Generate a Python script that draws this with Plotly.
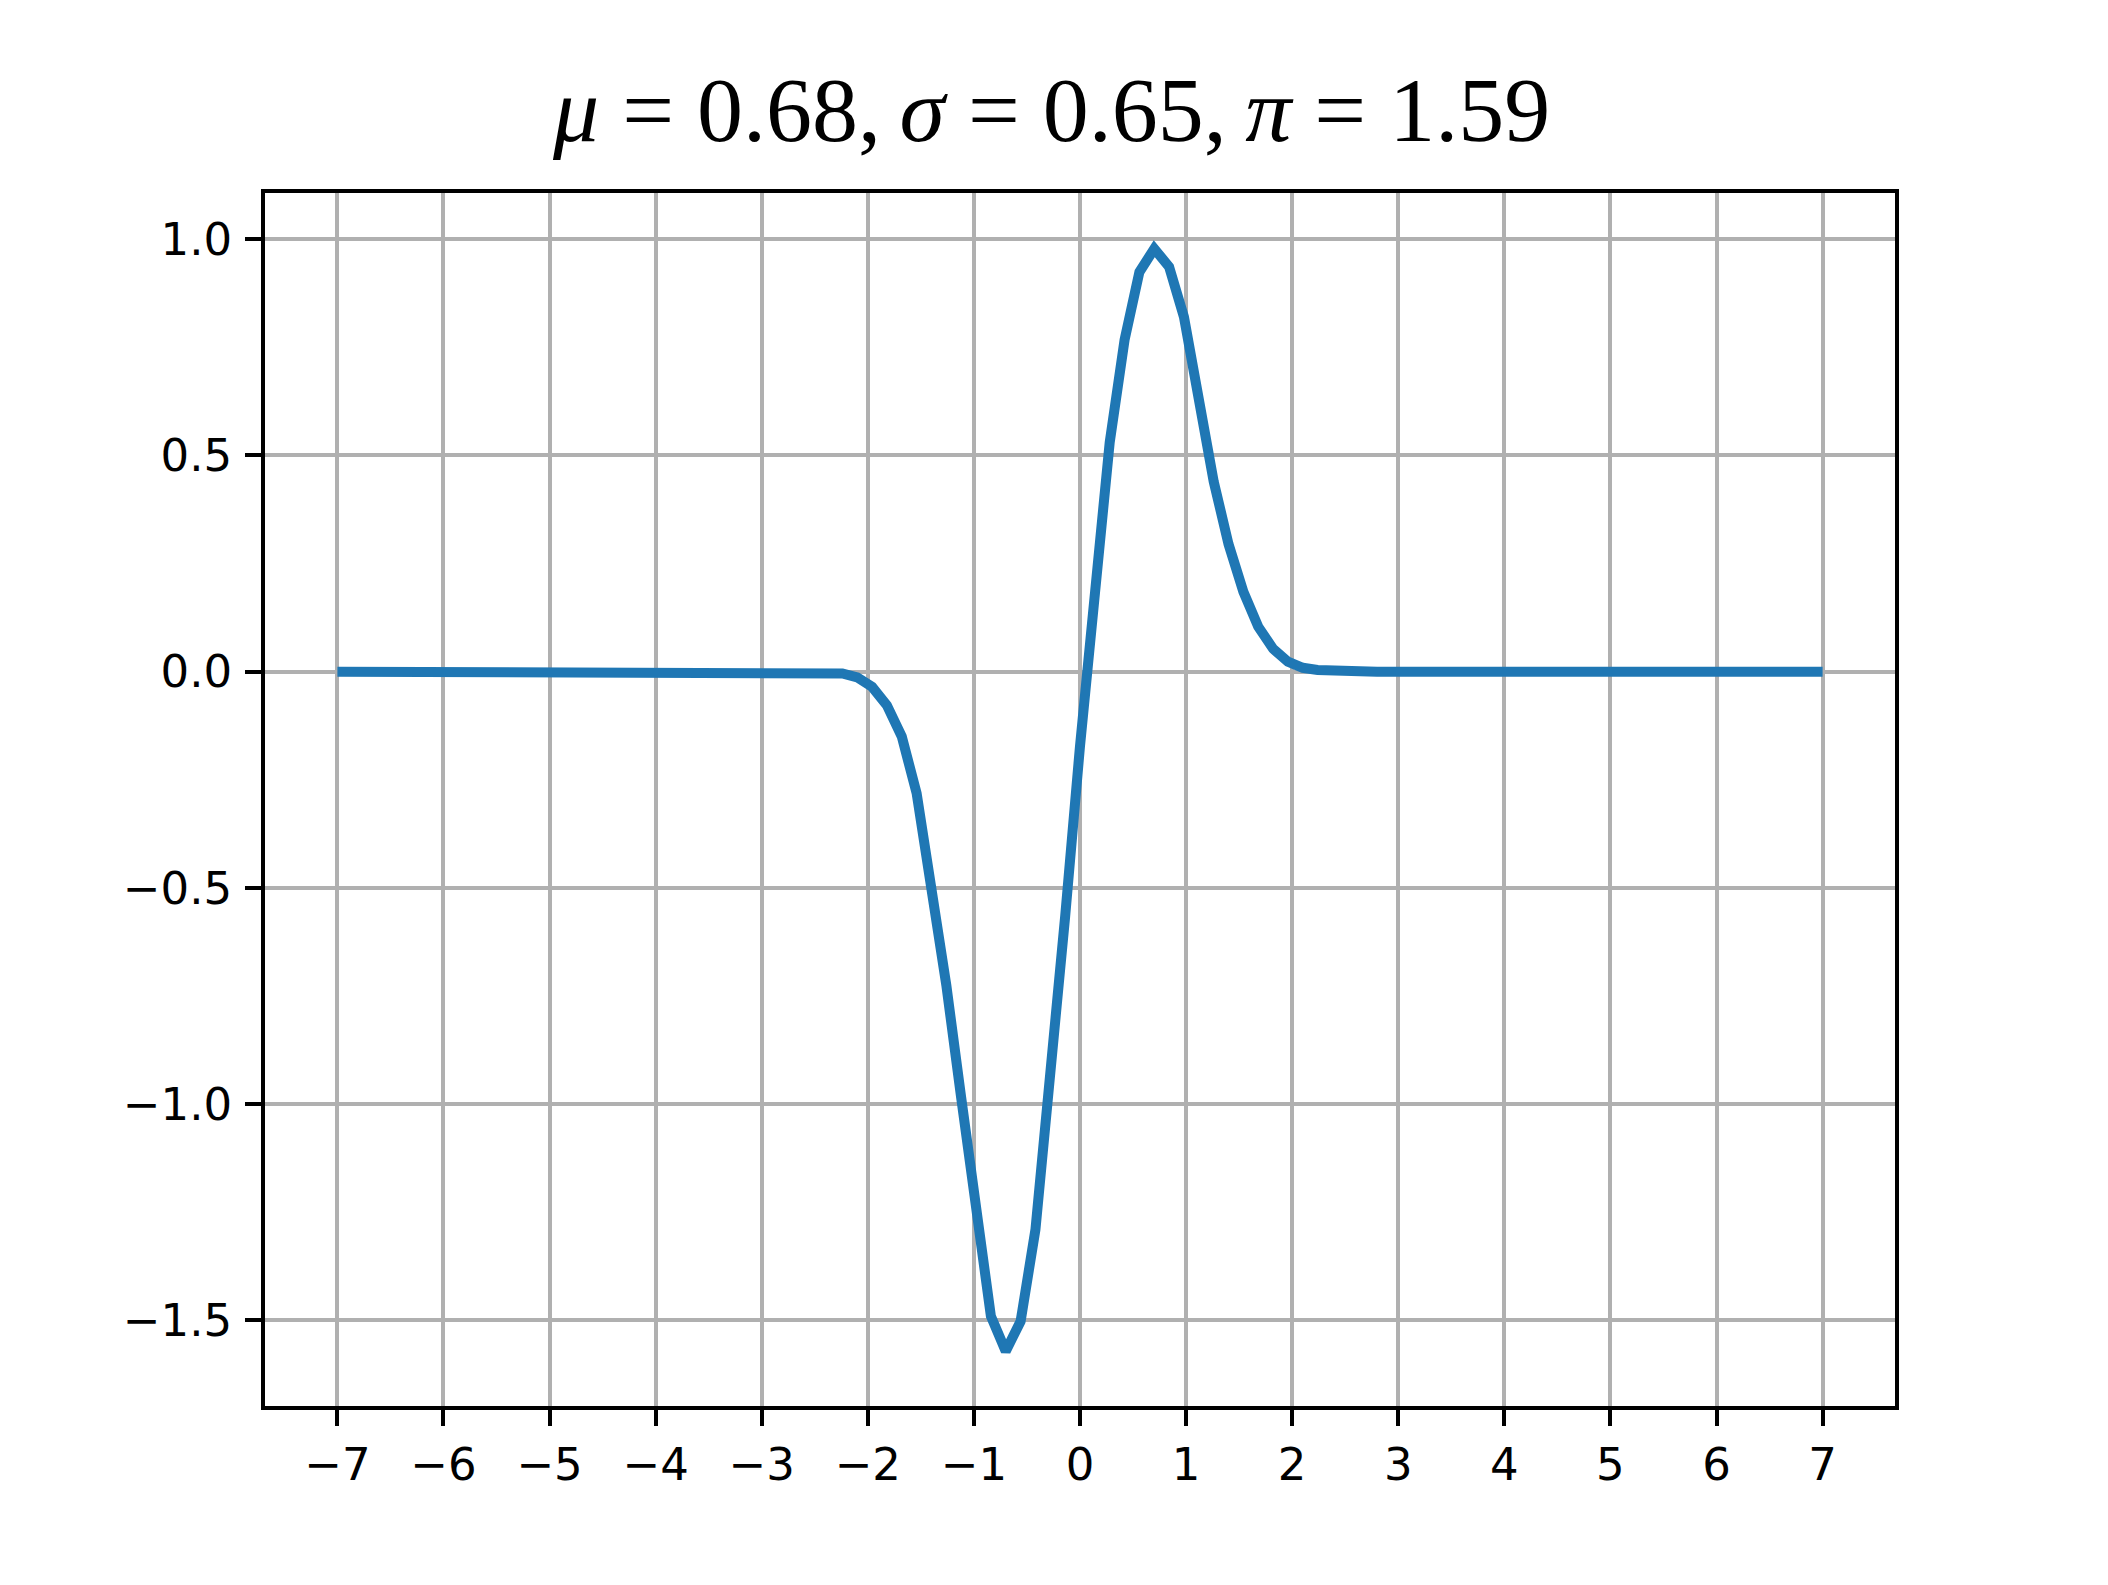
import plotly.graph_objects as go

# sampled curve (flat zero tails are straight segments to the ends)
x_vals = [-7.0, -2.80, -2.66, -2.52, -2.38, -2.24, -2.10, -1.96, -1.82, -1.68, -1.54,
          -1.40, -1.26, -1.12, -0.98, -0.84, -0.70, -0.56, -0.42, -0.28, -0.14,
          0.00, 0.14, 0.28, 0.42, 0.56, 0.70, 0.84, 0.98, 1.12, 1.26, 1.40,
          1.54, 1.68, 1.82, 1.96, 2.10, 2.24, 2.38, 2.52, 2.66, 2.80, 7.0]
y_vals = [0.0, 0.0, 0.0, -0.0003, -0.001, -0.004, -0.013, -0.035, -0.078, -0.150, -0.281,
          -0.489, -0.725, -0.985, -1.235, -1.490, -1.571, -1.502, -1.290, -0.950, -0.566,
          -0.172, 0.200, 0.530, 0.767, 0.924, 0.978, 0.936, 0.820, 0.636, 0.440, 0.295,
          0.185, 0.104, 0.053, 0.023, 0.009, 0.004, 0.002, 0.001, 0.0, 0.0, 0.0]

x_ticks = [-7, -6, -5, -4, -3, -2, -1, 0, 1, 2, 3, 4, 5, 6, 7]
x_ticktext = ["\u22127", "\u22126", "\u22125", "\u22124", "\u22123", "\u22122", "\u22121",
              "0", "1", "2", "3", "4", "5", "6", "7"]
y_ticks = [1.0, 0.5, 0.0, -0.5, -1.0, -1.5]
y_ticktext = ["1.0", "0.5", "0.0", "\u22120.5", "\u22121.0", "\u22121.5"]

title_text = "<i>\u03bc</i> = 0.68,\u2009<i>\u03c3</i> = 0.65,\u2009<i>\u03c0</i> = 1.59"

OFF = 8      # page body margin
LW = 3.7     # spine width (plotly draws it outside the plot area)
HALF = LW / 2
W, H = 2108 - OFF, 1585 - OFF
# spine centre positions in the page, moved inward by half the line width
L = 263.3 - OFF + HALF
R = 1896.6 - OFF - HALF
T = 190.9 - OFF + HALF
B = 1407.9 - OFF - HALF

# data <-> pixel mapping measured at the spine centres
XPX = (1896.6 - 263.3) / 15.4          # px per x unit
YPX = (1407.9 - 190.9) / (1.111 + 1.702)  # px per y unit
x_range = [-7.7 + HALF / XPX, 7.7 - HALF / XPX]
y_range = [-1.702 + HALF / YPX, 1.111 - HALF / YPX]

fig = go.Figure()
fig.add_trace(go.Scatter(x=x_vals, y=y_vals, mode="lines",
                         line=dict(color="#1f77b4", width=10), hoverinfo="skip"))

axis_common = dict(showline=True, mirror=True, linecolor="black", linewidth=LW,
                   ticks="outside", ticklen=16, tickwidth=LW, tickcolor="black",
                   showgrid=True, gridcolor="#b0b0b0", gridwidth=3.5, zeroline=False,
                   tickfont=dict(family="DejaVu Sans", size=45, color="black"))

title_cx = 1051 - OFF
title_cy = 110 - OFF

fig.update_layout(
    width=W, height=H, autosize=False,
    paper_bgcolor="white", plot_bgcolor="white",
    margin=dict(l=L, r=W - R, t=T, b=H - B, pad=0),
    showlegend=False,
    xaxis=dict(range=x_range, tickmode="array", tickvals=x_ticks, ticktext=x_ticktext,
               ticklabelstandoff=0, **axis_common),
    yaxis=dict(range=y_range, tickmode="array", tickvals=y_ticks, ticktext=y_ticktext,
               ticklabelstandoff=4, **axis_common),
    annotations=[dict(text=title_text,
                      x=(title_cx - L) / (R - L), y=(H - title_cy - (H - B)) / (B - T),
                      xref="paper", yref="paper",
                      showarrow=False, xanchor="center", yanchor="middle",
                      font=dict(family="Liberation Serif", size=92, color="black"))],
)

fig.write_html("out.html")
